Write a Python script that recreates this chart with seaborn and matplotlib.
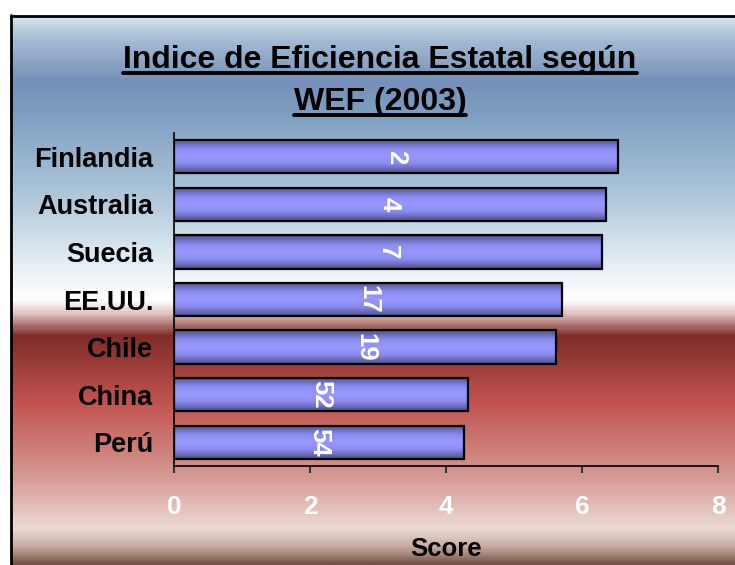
import numpy as np
import pandas as pd
import matplotlib
matplotlib.use("Agg")
import matplotlib.pyplot as plt
import seaborn as sns
from matplotlib.colors import LinearSegmentedColormap
from matplotlib.lines import Line2D

# ==========================================
# DATA
# ==========================================

countries = ["Finlandia", "Australia", "Suecia", "EE.UU.", "Chile", "China", "Perú"]
scores = [6.53, 6.35, 6.29, 5.71, 5.62, 4.32, 4.26]
ranks = ["2", "4", "7", "17", "19", "52", "54"]
x_ticks = [0, 2, 4, 6, 8]

title_lines = ["Indice de Eficiencia Estatal según", "WEF (2003)"]

df = pd.DataFrame({"Pais": countries, "Score": scores, "Rank": ranks})

# ==========================================
# FIGURE + BACKGROUND
# ==========================================

sns.set_theme(style="white")
plt.rcParams["font.family"] = ["Liberation Sans", "DejaVu Sans"]
plt.rcParams["font.weight"] = "bold"

W, H = 735, 565
fig = plt.figure(figsize=(W / 100, H / 100), dpi=100, facecolor="white")

bg = fig.add_axes([0, 0, 1, 1], zorder=-5)
bg.set_xlim(0, W)
bg.set_ylim(H, 0)
bg.axis("off")

# vertical gradient of the chart area (pixel row -> colour)
bg_stops = [
    (15, "#d6e6f1"), (35, "#a9bfd6"), (80, "#7590b9"), (115, "#7fa0c1"),
    (200, "#b1c9db"), (255, "#dfe9f1"), (300, "#ffffff"), (312, "#e6cccb"),
    (336, "#7e2c29"), (360, "#963b37"), (400, "#c0514e"), (470, "#d3918b"),
    (530, "#ebdad3"), (548, "#c9aba3"), (565, "#785449"),
]
pos = [(y - 15) / (565 - 15) for y, _ in bg_stops]
bg_cmap = LinearSegmentedColormap.from_list("bg", list(zip(pos, [c for _, c in bg_stops])))
grad = np.linspace(0, 1, 550).reshape(-1, 1)
bg.imshow(grad, cmap=bg_cmap, aspect="auto", extent=[11, W, H, 15], interpolation="bilinear")
bg.add_line(Line2D([11.5, 11.5], [15, H], color="black", lw=2))
bg.add_line(Line2D([11.5, W], [15.5, 15.5], color="black", lw=2))

# ==========================================
# BAR CHART
# ==========================================

ax = fig.add_axes([174 / W, 1 - 466 / H, (718 - 174) / W, (466 - 133) / H])
ax.patch.set_alpha(0)

sns.barplot(
    data=df,
    x="Score",
    y="Pais",
    orient="h",
    width=0.7,
    color="#9898ff",
    edgecolor="black",
    linewidth=1.6,
    ax=ax,
)

bar_cmap = LinearSegmentedColormap.from_list(
    "bar",
    [(0, "#50508a"), (0.28, "#8c8cf0"), (0.5, "#9898ff"), (0.72, "#8c8cf0"), (1, "#50508a")],
)
bar_grad = np.linspace(0, 1, 64).reshape(-1, 1)

for patch, rank in zip(ax.patches, df["Rank"]):
    x0, y0 = patch.get_x(), patch.get_y()
    w, h = patch.get_width(), patch.get_height()
    img = ax.imshow(
        bar_grad, cmap=bar_cmap, aspect="auto",
        extent=[x0, x0 + w, y0 + h, y0], zorder=patch.get_zorder() - 0.1,
        interpolation="bilinear",
    )
    img.set_clip_path(patch)
    patch.set_facecolor("none")
    ax.text(
        x0 + w / 2, y0 + h / 2, rank, rotation=-90,
        ha="center", va="center", color="white",
        fontsize=18.5, fontweight="bold", zorder=5,
    )

ax.set_xlim(0, 8)
ax.set_ylim(6.5, -0.5)
ax.set_xticks(x_ticks)
ax.set_xticklabels([str(t) for t in x_ticks])
ax.set_ylabel("")
ax.set_xlabel("Score", fontsize=18.5, fontweight="bold", color="black", labelpad=13)

for side in ["top", "right"]:
    ax.spines[side].set_visible(False)
for side in ["left", "bottom"]:
    ax.spines[side].set_color("black")
    ax.spines[side].set_linewidth(1.2)

ax.tick_params(axis="x", bottom=True, length=5, width=1.5, color="#333333",
               pad=16, labelsize=19, labelcolor="white")
ax.tick_params(axis="y", left=False, pad=9, labelsize=19.5, labelcolor="black")
for lbl in ax.get_xticklabels() + ax.get_yticklabels():
    lbl.set_fontweight("bold")

# ==========================================
# UNDERLINED TITLE
# ==========================================

title_y = [68, 110]
title_texts = []
for line, yb in zip(title_lines, title_y):
    t = fig.text(380 / W, 1 - yb / H, line, ha="center", va="baseline",
                 fontsize=23, fontweight="bold", color="black")
    title_texts.append(t)

fig.canvas.draw()
renderer = fig.canvas.get_renderer()
for t, yb in zip(title_texts, title_y):
    bb = t.get_window_extent(renderer)
    bg.add_line(Line2D([bb.x0, bb.x1], [yb + 5, yb + 5], color="black", lw=2.8))

fig.savefig("out.png", dpi=100, facecolor="white")
